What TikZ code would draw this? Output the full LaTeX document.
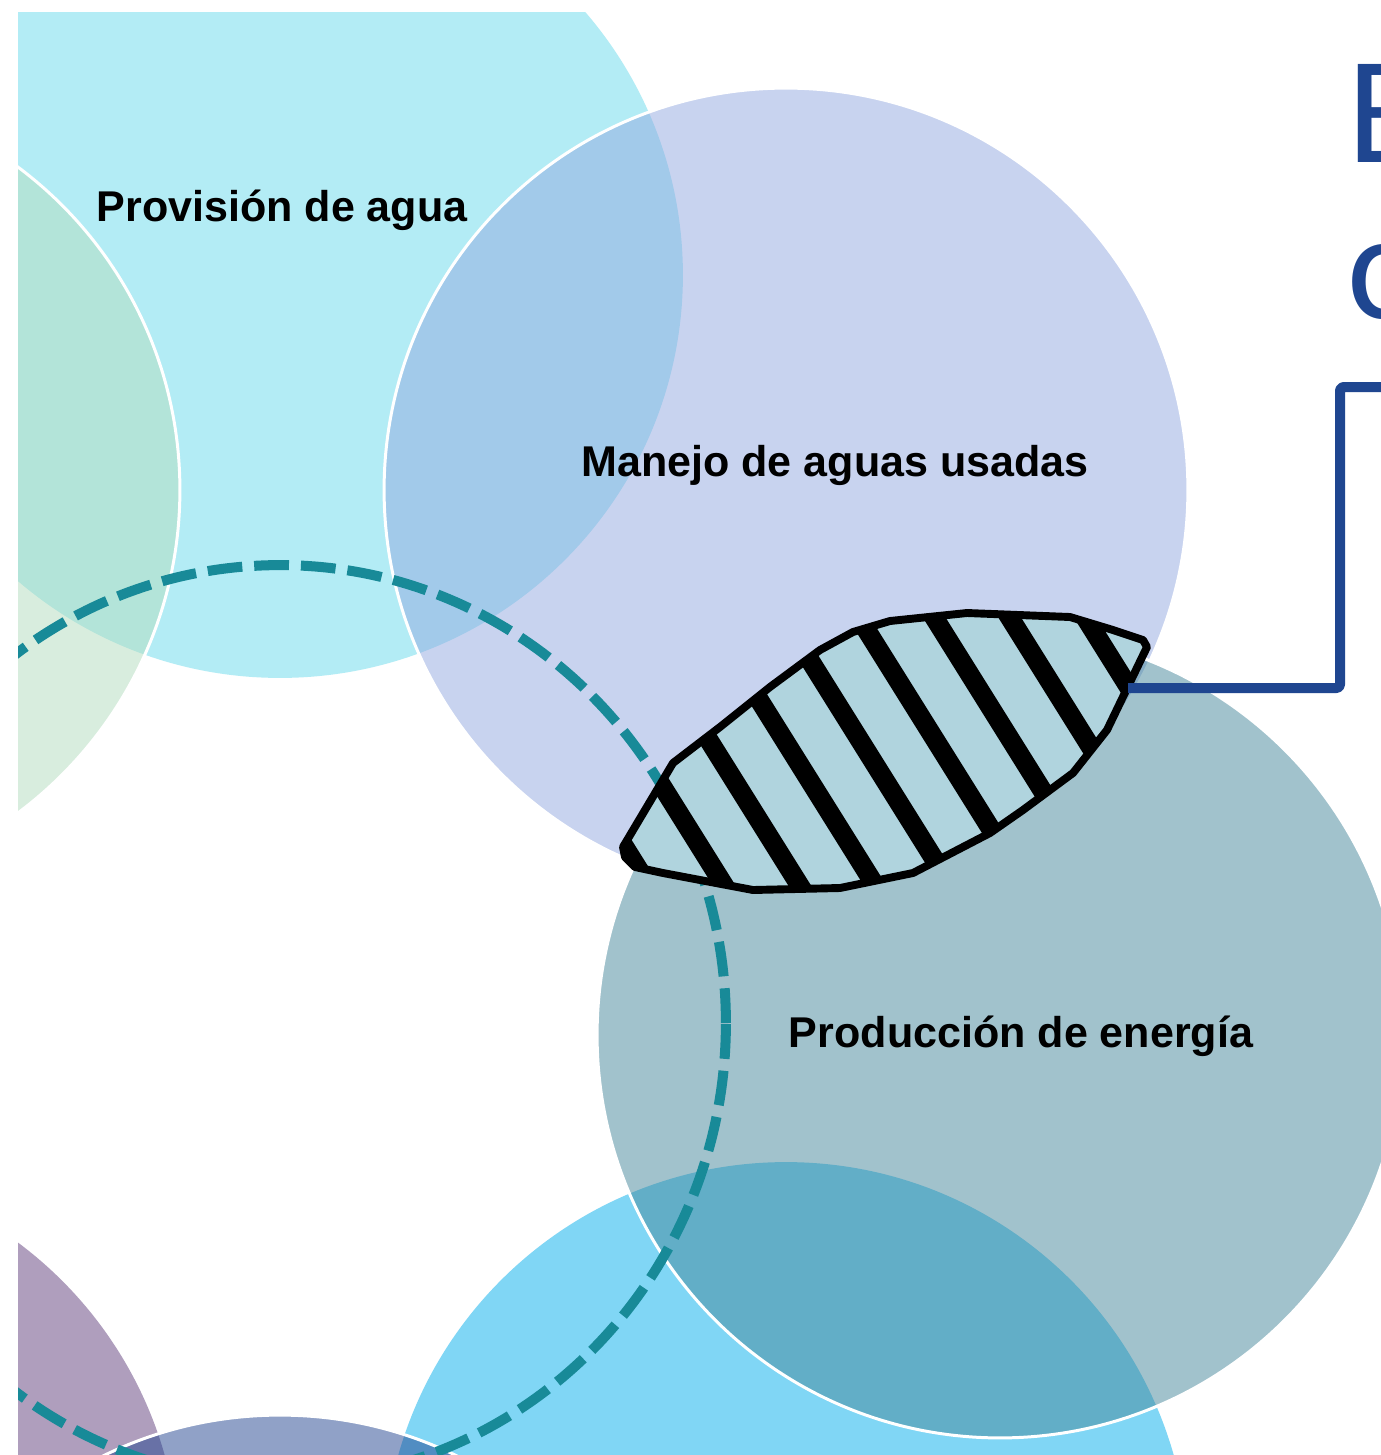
\documentclass[tikz,border=0pt]{standalone}
\usepackage{fontspec}
\setmainfont{Liberation Sans}
\newfontfamily\titlefont{Carlito}
\definecolor{cyanC}{HTML}{B3ECF5}
\definecolor{purpleC}{HTML}{AF9EBD}
\definecolor{ltblueC}{HTML}{80D6F5}
\definecolor{greenC}{HTML}{B3DDBF}
\definecolor{lavC}{HTML}{93A9E1}
\definecolor{prodC}{HTML}{45879B}
\definecolor{botC}{HTML}{234591}
\definecolor{dashC}{HTML}{188A98}
\definecolor{lensC}{HTML}{B0D4DE}
\definecolor{connC}{HTML}{1F4690}
\begin{document}
\begin{tikzpicture}[x=0.02cm,y=-0.02cm,
  solidcirc/.style={fill=#1},
  glasscirc/.style={fill=#1,fill opacity=0.5,draw=white,line width=1.7pt},
  ringdash/.style={draw=dashC,line width=5.7pt,dash pattern=on 19.8pt off 6.8pt},
  stripe/.style={line width=11pt,black},
  lensline/.style={draw=black,line width=4.5pt,line join=round},
  conn/.style={draw=connC,line width=5.7pt,line join=round,rounded corners=2pt},
  label/.style={font=\fontsize{24.5}{28}\selectfont\bfseries,text=black,inner sep=0pt,anchor=base},
  titletext/.style={font=\titlefont\fontsize{87}{90}\selectfont,text=connC,inner sep=0pt,anchor=base west}]
\useasboundingbox (0,0) rectangle (1381,1455);
\fill[white] (0,0) rectangle (1381,1455);
\begin{scope}
\clip (18,12) rectangle (1381,1455);
% opaque circles
\path[solidcirc=cyanC] (280,275) circle[radius=8.06cm];
\path[solidcirc=purpleC] (-222,1565) circle[radius=8.04cm];
\path[solidcirc=ltblueC] (786,1565) circle[radius=8.06cm];
% translucent circles with white rims
\path[glasscirc=greenC] (-223,490) circle[radius=8.06cm];
\path[glasscirc=lavC] (786,490) circle[radius=8.04cm];
\path[glasscirc=prodC] (1000,1035) circle[radius=8.06cm];
\path[glasscirc=botC] (280,1818) circle[radius=8.06cm];
% dashed ring
\path[ringdash] (280,1023) ellipse[x radius=8.92cm, y radius=9.16cm];
\end{scope}
% hatched lens
\fill[lensC] (623,847) -- (625,857) -- (635,867) -- (663,873) -- (753,890) -- (840,888) -- (913,873) -- (990,833) -- (1023,810) -- (1073,773) -- (1107,730) -- (1147,647) -- (1143,640) -- (1113,630) -- (1070,617) -- (967,613) -- (890,621) -- (853,632) -- (820,650) -- (770,687) -- (720,727) -- (673,763) -- cycle;
\begin{scope}
\clip (623,847) -- (625,857) -- (635,867) -- (663,873) -- (753,890) -- (840,888) -- (913,873) -- (990,833) -- (1023,810) -- (1073,773) -- (1107,730) -- (1147,647) -- (1143,640) -- (1113,630) -- (1070,617) -- (967,613) -- (890,621) -- (853,632) -- (820,650) -- (770,687) -- (720,727) -- (673,763) -- cycle;
\foreach \i in {-10,...,10}
  \draw[stripe] (866+\i*75.5-187.5,450) -- (866+\i*75.5+187.5,1050);
\end{scope}
\draw[lensline] (623,847) -- (625,857) -- (635,867) -- (663,873) -- (753,890) -- (840,888) -- (913,873) -- (990,833) -- (1023,810) -- (1073,773) -- (1107,730) -- (1147,647) -- (1143,640) -- (1113,630) -- (1070,617) -- (967,613) -- (890,621) -- (853,632) -- (820,650) -- (770,687) -- (720,727) -- (673,763) -- cycle;
% connector
\coordinate (lensR) at (1128,688);
\coordinate (titleR) at (1395,387);
\draw[conn] (lensR) -- (1340,688) -- (1340,387) -- (titleR);
% labels
\node[label] (prov) at (282,221) {Provisión de agua};
\node[label] (manejo) at (835,476) {Manejo de aguas usadas};
\node[label] (prod) at (1021,1047) {Producción de energía};
% clipped title letters
\node[titletext] (titleA) at (1347,162) {E};
\node[titletext] (titleB) at (1347,318) {c};
\end{tikzpicture}
\end{document}
